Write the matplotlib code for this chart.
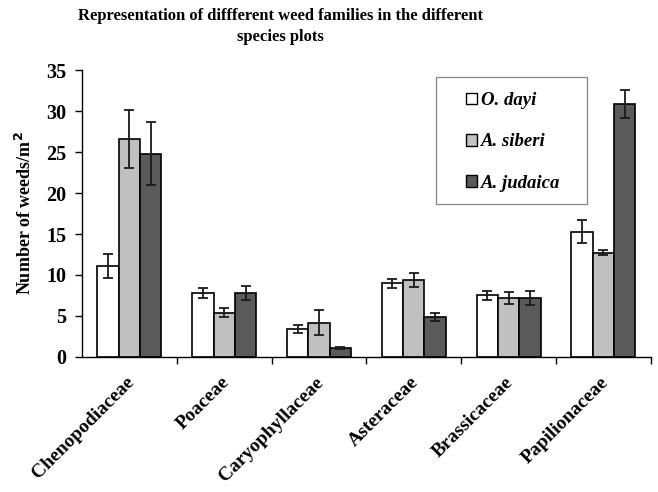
import matplotlib
matplotlib.use("Agg")
import matplotlib.pyplot as plt
from matplotlib.patches import Rectangle
import numpy as np

families = ["Chenopodiaceae", "Poaceae", "Caryophyllaceae",
            "Asteraceae", "Brassicaceae", "Papilionaceae"]
species = ["O. dayi", "A. siberi", "A. judaica"]

# mean number of weeds per m2 and error
o_dayi = [11.1, 7.8, 3.4, 9.0, 7.5, 15.3]
o_dayi_err = [1.5, 0.65, 0.5, 0.55, 0.55, 1.4]
a_siberi = [26.6, 5.4, 4.2, 9.4, 7.2, 12.7]
a_siberi_err = [3.5, 0.55, 1.5, 0.9, 0.75, 0.3]
a_judaica = [24.8, 7.8, 1.1, 4.9, 7.2, 30.9]
a_judaica_err = [3.8, 0.8, 0.15, 0.45, 0.9, 1.7]

colors = ["#ffffff", "#c0c0c0", "#5a5a5a"]

plt.rcParams['font.family'] = ['Liberation Serif', 'DejaVu Serif']

fig = plt.figure(figsize=(6.58, 4.92), dpi=100)
ax = fig.add_axes([0.1246, 0.2744, 0.8644, 0.5833])

x = np.arange(len(families))
w = 0.225
series = [(o_dayi, o_dayi_err), (a_siberi, a_siberi_err), (a_judaica, a_judaica_err)]
for i, (vals, errs) in enumerate(series):
    ax.bar(x + (i - 1) * w, vals, w, yerr=errs, color=colors[i],
           edgecolor="black", linewidth=1.2, label=species[i],
           error_kw=dict(ecolor="#1a1a1a", elinewidth=1.3, capsize=3.5, capthick=1.3))

ax.set_xlim(-0.5, 5.5)
ax.set_ylim(0, 35)
ax.set_yticks(range(0, 36, 5))
ax.set_xticks(np.arange(0.5, 6, 1))
ax.set_xticklabels([])
ax.set_xticks(x - 0.04, minor=True)
ax.set_xticklabels(families, minor=True, rotation=45, ha="right",
                   rotation_mode="anchor", fontsize=14, fontweight="bold")
ax.tick_params(axis="x", which="minor", length=0, pad=12)
ax.tick_params(axis="x", which="major", length=5, width=1, direction="out")
ax.tick_params(axis="y", length=5, width=1, direction="out", labelsize=14.5, pad=6)
for lab in ax.get_yticklabels():
    lab.set_fontweight("bold")

ax.spines["top"].set_visible(False)
ax.spines["right"].set_visible(False)
ax.spines["left"].set_linewidth(1)
ax.spines["bottom"].set_linewidth(1)

ax.set_ylabel("Number of weeds/m$^\\mathbf{2}$", fontsize=13, fontweight="bold", labelpad=8)
fig.text(0.426, 0.984, "Representation of diffferent weed families in the different\nspecies plots",
         fontsize=12, fontweight="bold", ha="center", va="top", linespacing=1.4)

# legend frame drawn separately so the box can be wider than its content
fig.patches.append(Rectangle((436 / 658, 1 - 204 / 492), 151 / 658, 127 / 492,
                             transform=fig.transFigure, fill=False,
                             edgecolor="#888888", linewidth=0.9))
leg = ax.legend(loc="center left", bbox_to_anchor=(466 / 658, 1 - 142 / 492),
                bbox_transform=fig.transFigure,
                prop=dict(family="Liberation Serif", style="italic", weight="bold", size=13.5),
                handlelength=0.6, handleheight=0.6, handletextpad=0.2,
                labelspacing=1.3, borderpad=0, frameon=False, borderaxespad=0)
for h in leg.legend_handles:
    h.set_linewidth(1)

fig.savefig("out.png", dpi=100)
